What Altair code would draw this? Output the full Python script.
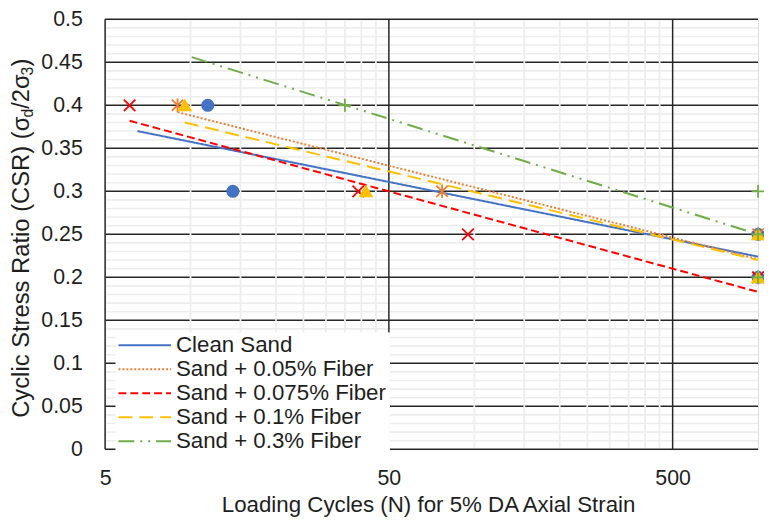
import altair as alt
import pandas as pd

# ---------------- data ----------------
series = ["Clean Sand", "Sand + 0.05% Fiber", "Sand + 0.075% Fiber",
          "Sand + 0.1% Fiber", "Sand + 0.3% Fiber"]
colors = ["#4472C4", "#ED7D31", "#FF0000", "#FFC000", "#70AD47"]
dashes = [[1, 0], [2, 2], [8, 4], [14, 7], [16, 6, 2, 6, 2, 6]]

# measured test points (loading cycles N, CSR)
clean_n = [11.5, 14.1, 1000, 1000]
clean_csr = [0.40, 0.30, 0.25, 0.20]
f005_n = [9.0, 77, 1000, 1000]
f005_csr = [0.40, 0.30, 0.25, 0.20]
f0075_n = [6.1, 39, 95, 1000]
f0075_csr = [0.40, 0.30, 0.25, 0.20]
f01_n = [9.55, 41.5, 1000, 1000]
f01_csr = [0.40, 0.30, 0.25, 0.20]
f03_n = [35, 1000, 1000, 1000]
f03_csr = [0.40, 0.30, 0.25, 0.20]

# logarithmic trend lines (read endpoints)
trend_n_start = [6.5, 9.0, 6.1, 9.55, 10.1]
trend_csr_start = [0.370, 0.392, 0.382, 0.380, 0.456]
trend_n_end = [1000, 1000, 1000, 1000, 1000]
trend_csr_end = [0.224, 0.221, 0.183, 0.220, 0.250]

# axis ticks / grid values
x_major = [5, 50, 500]
x_minor = [10, 15, 20, 25, 30, 35, 40, 45, 100, 150, 200, 250, 300, 350, 400, 450]
y_major = [0, 0.05, 0.1, 0.15, 0.2, 0.25, 0.3, 0.35, 0.4, 0.45, 0.5]
y_minor = [0.01, 0.02, 0.03, 0.04, 0.06, 0.07, 0.08, 0.09, 0.11, 0.12, 0.13, 0.14,
           0.16, 0.17, 0.18, 0.19, 0.21, 0.22, 0.23, 0.24, 0.26, 0.27, 0.28, 0.29,
           0.31, 0.32, 0.33, 0.34, 0.36, 0.37, 0.38, 0.39, 0.41, 0.42, 0.43, 0.44,
           0.46, 0.47, 0.48, 0.49]

# marker styles (one per series, same order)
marker_keys = ["m0", "m1", "m2", "m3", "m4"]
shapes = ["circle", "M-1,-1L1,1M-1,1L1,-1M0,-1.2L0,1.2", "M-1,-1L1,1M-1,1L1,-1",
          "triangle-up", "M-1.1,0L1.1,0M0,-1.1L0,1.1"]
fills = ["#4472C4", "transparent", "transparent", "#FFC000", "transparent"]
sizes = [130, 140, 140, 170, 150]

# ---------------- tables ----------------
pts_n = [clean_n, f005_n, f0075_n, f01_n, f03_n]
pts_c = [clean_csr, f005_csr, f0075_csr, f01_csr, f03_csr]
rows = []
for k, ns, cs in zip(marker_keys, pts_n, pts_c):
    for n, c in zip(ns, cs):
        rows.append({"grp": k, "N": n, "CSR": c})
points_df = pd.DataFrame(rows)

trend_rows = []
for i, s in enumerate(series):
    trend_rows.append({"series": s, "N": trend_n_start[i], "CSR": trend_csr_start[i], "o": 0})
    trend_rows.append({"series": s, "N": trend_n_end[i], "CSR": trend_csr_end[i], "o": 1})
trend_df = pd.DataFrame(trend_rows)

W, H = 659, 434
FONT = "Liberation Sans"
TXT = "#1e1e1e"
FS = 21.5
GRID_DARK = "#262626"
GRID_LIGHT = "#EDEDED"

xscale = alt.Scale(type="log", domain=[5, 1000], nice=False)
yscale = alt.Scale(domain=[0, 0.5], nice=False, zero=False)

xaxis = alt.Axis(values=x_major, title="Loading Cycles (N) for 5% DA Axial Strain",
                 grid=False, domain=False, ticks=False, tickSize=0,
                 labelPadding=18.4, labelFontSize=FS, labelFont=FONT,
                 labelColor=TXT, format="d", labelFlush=False,
                 titleFontSize=22.5, titleFont=FONT, titleColor=TXT,
                 titleFontWeight="normal", titleBaseline="alphabetic",
                 titleY=63, titleX=326)
yaxis = alt.Axis(values=y_major, title=None, grid=False, domain=False,
                 ticks=False, tickSize=0, labelPadding=23,
                 labelFontSize=FS, labelFont=FONT, labelColor=TXT,
                 format="~g", labelFlush=False)

X = lambda f: alt.X(f, scale=xscale, axis=xaxis)
Y = lambda f: alt.Y(f, scale=yscale, axis=yaxis)

minor_y = alt.Chart(pd.DataFrame({"CSR": y_minor})).mark_rule(
    color=GRID_LIGHT, strokeWidth=1.6).encode(
    y=Y("CSR:Q"), x=alt.value(0), x2=alt.value(W))
major_y = alt.Chart(pd.DataFrame({"CSR": y_major})).mark_rule(
    color=GRID_DARK, strokeWidth=1.5).encode(
    y=Y("CSR:Q"), x=alt.value(0), x2=alt.value(W))
minor_x = alt.Chart(pd.DataFrame({"N": x_minor})).mark_rule(
    color=GRID_LIGHT, strokeWidth=1.8).encode(
    x=X("N:Q"), y=alt.value(1.5), y2=alt.value(H - 1.5))
major_x = alt.Chart(pd.DataFrame({"N": x_major})).mark_rule(
    color=GRID_DARK, strokeWidth=1.5).encode(
    x=X("N:Q"), y=alt.value(0), y2=alt.value(H))

legend = alt.Legend(
    orient="none", legendX=10.5, legendY=316, title=None,
    symbolType="stroke", symbolSize=2809, symbolStrokeWidth=2,
    clipHeight=22, rowPadding=1.2, labelFontSize=22.5, labelFont=FONT,
    labelColor=TXT, labelOffset=4, padding=2, fillColor="white",
    labelLimit=0, strokeColor="white")

lines = alt.Chart(trend_df).mark_line(strokeWidth=2).encode(
    x=X("N:Q"),
    y=Y("CSR:Q"),
    color=alt.Color("series:N", scale=alt.Scale(domain=series, range=colors),
                    sort=series, legend=legend),
    strokeDash=alt.StrokeDash("series:N", scale=alt.Scale(domain=series, range=dashes),
                              sort=series, legend=legend),
    order="o:Q",
)

pts = alt.Chart(points_df).mark_point(opacity=1, strokeWidth=1.8).encode(
    x=X("N:Q"),
    y=Y("CSR:Q"),
    shape=alt.Shape("grp:N", scale=alt.Scale(domain=marker_keys, range=shapes), legend=None),
    stroke=alt.Stroke("grp:N", scale=alt.Scale(domain=marker_keys, range=colors), legend=None),
    fill=alt.Fill("grp:N", scale=alt.Scale(domain=marker_keys, range=fills), legend=None),
    size=alt.Size("grp:N", scale=alt.Scale(domain=marker_keys, range=sizes), legend=None),
)

# y-axis title with subscripts, built from rotated text pieces
TFS = 24
SUB = 16
pieces = [("Cyclic Stress Ratio (CSR) (σ", TFS, 12.626 * TFS, 0),
          ("d", SUB, 0.556 * SUB, 4.5),
          ("/2σ", TFS, 1.404 * TFS, 0),
          ("3", SUB, 0.556 * SUB, 4.5),
          (")", TFS, 0.333 * TFS, 0)]
total = sum(p[2] for p in pieces)
ypos = H / 2 + total / 2 + 4
title_layers = []
for txt, fs, w, dx in pieces:
    title_layers.append(
        alt.Chart(pd.DataFrame({"t": [txt]})).mark_text(
            angle=270, align="left", baseline="alphabetic", fontSize=fs,
            font=FONT, color=TXT).encode(
            text="t:N", x=alt.value(-77 + dx), y=alt.value(ypos)))
    ypos -= w

chart = alt.layer(minor_y, major_y, minor_x, major_x, lines, pts, *title_layers).properties(
    width=W, height=H,
    autosize=alt.AutoSizeParams(type="none"),
    padding={"left": 98, "top": 9, "right": 6, "bottom": 70},
).configure_view(stroke=GRID_DARK, strokeWidth=1.5).configure(font=FONT)

chart.save("out.html", embed_options={"renderer": "svg", "actions": False})
